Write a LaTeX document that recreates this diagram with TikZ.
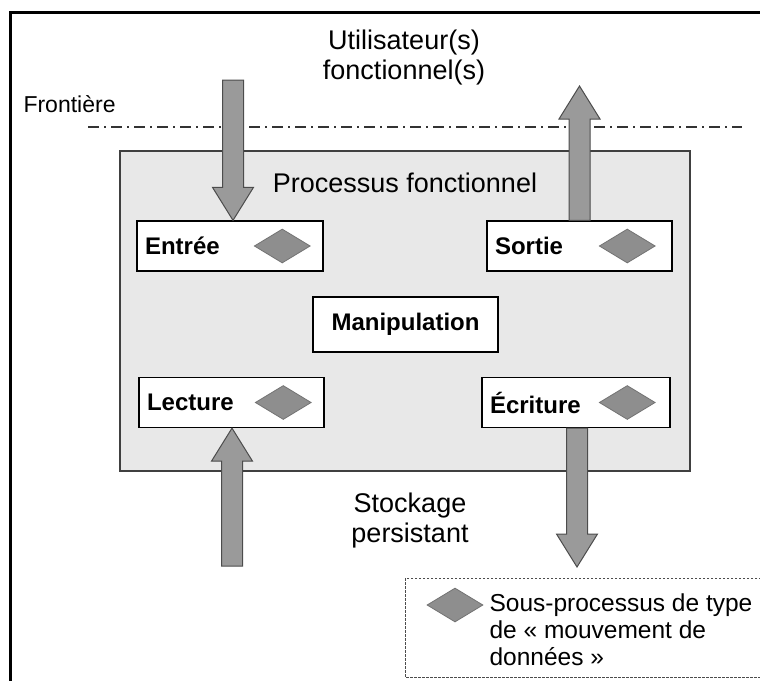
\documentclass[tikz,border=0pt]{standalone}
\usepackage{fontspec}
\setmainfont{Liberation Sans}
\usetikzlibrary{positioning,calc,shapes.geometric}

\definecolor{fondproc}{HTML}{E8E8E8}
\definecolor{grisfl}{HTML}{9A9A9A}
\definecolor{grismvt}{HTML}{8E8E8E}

% fleche epaisse verticale de #1 vers #2
\newcommand{\fleche}[2]{%
	\filldraw[fleche] let \p1=(#1), \p2=(#2), \n1={ifthenelse(\y2>\y1,1,-1)} in
		(\x1-10.5pt,\y1) -- (\x1-10.5pt,\y2-\n1*33pt) -- (\x1-20.5pt,\y2-\n1*33pt)
		-- (\x1,\y2) -- (\x1+20.5pt,\y2-\n1*33pt) -- (\x1+10.5pt,\y2-\n1*33pt)
		-- (\x1+10.5pt,\y1) -- cycle;}

\tikzset{
	fleche/.style={fill=grisfl, draw=black!70, line width=1pt},
	bloc/.style={draw, fill=white, line width=1.3pt, minimum height=50pt,
		inner xsep=8pt, align=left, font=\fontsize{24}{28}\selectfont\bfseries},
	mvt/.style={diamond, fill=grismvt, draw=black!55, line width=0.8pt,
		minimum width=56pt, minimum height=34pt, inner sep=0pt},
	texte/.style={font=\fontsize{27}{30}\selectfont, align=center}
}

\begin{document}
\begin{tikzpicture}[x=1pt, y=-1pt]

	\useasboundingbox (0,0) rectangle (760,680);

	% cadre
	\draw[line width=3pt] (10,682) -- (10,12) -- (762,12);

	\node[texte] (users) at (404,58) {Utilisateur(s)\\fonctionnel(s)};
	\node[font=\fontsize{23}{26}\selectfont, anchor=west] (frontiere) at (20,104) {Frontière};
	\draw[black!80, line width=1.8pt, dash pattern=on 11pt off 5pt on 2pt off 5pt]
		(88,127) -- (742,127);

	% processus
	\node[draw=black!75, fill=fondproc, line width=1.5pt, minimum width=570pt,
		minimum height=320pt] (processus) at (405,311) {};
	\node[texte] (titre) at (405,183) {Processus fonctionnel};

	\node[bloc, text width=170pt] (entree) at (230,246) {Entrée};
	\node[bloc, text width=169pt] (sortie) at (579.5,246) {Sortie};
	\node[bloc, align=center, minimum width=185pt, minimum height=55pt] (manip)
		at (405.5,324.5) {Manipulation};
	\node[bloc, text width=169pt] (lecture) at (231.5,402.5) {Lecture};
	\node[bloc, text width=172pt] (ecriture) at (576,402.5) {Écriture};

	\node[mvt, left=13pt of entree.east] (mvt1) {};
	\node[mvt, left=17pt of sortie.east] (mvt2) {};
	\node[mvt, left=13pt of lecture.east] (mvt3) {};
	\node[mvt, left=15pt of ecriture.east] (mvt4) {};

	\node[texte] (stockage) at (410,521) {Stockage\\persistant};

	% fleches
	\coordinate (haut1) at (233,80);
	\coordinate (haut2) at (579.5,86);
	\coordinate (bas1) at (232,566);
	\coordinate (bas2) at (577,567);

	\fleche{haut1}{haut1 |- entree.north}
	\fleche{haut2 |- sortie.north}{haut2}
	\fleche{bas1}{bas1 |- lecture.south}
	\fleche{bas2 |- ecriture.south}{bas2}

	% legende
	\draw[black!70, line width=1pt, dash pattern=on 2.5pt off 1.5pt]
		(765,578) -- (405,578) -- (405,677) -- (765,677);
	\node[mvt] (mvtleg) at (455,605) {};
	\node[anchor=north west, align=left, font=\fontsize{24.5}{27}\selectfont]
		(legende) at (486,590) {Sous-processus de type\\de «~mouvement de\\données~»};

\end{tikzpicture}
\end{document}
